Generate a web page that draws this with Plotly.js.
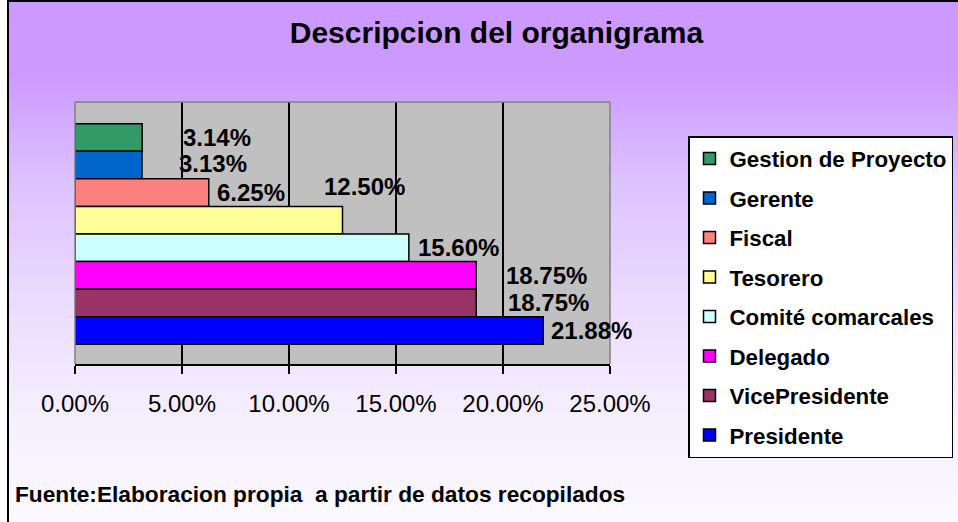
<!DOCTYPE html>
<html>
<head>
<meta charset="utf-8">
<script src="https://cdn.plot.ly/plotly-3.0.1.min.js"></script>
<style>
  html, body { margin: 0; padding: 0; background: #ffffff; }
  #wrap { position: relative; width: 958px; height: 522px; overflow: hidden; }
  #bg { position: absolute; left: 7px; top: 0; width: 951px; height: 522px;
        background: linear-gradient(to bottom, #cc99ff 0%, #cc99ff 14%, #dcc2ff 35%, #ebdcff 58%, #f5efff 80%, #fbf9ff 100%); }
  #frame { position: absolute; left: 7px; top: 0; width: 951px; height: 522px;
           border-left: 2px solid #000; border-top: 2px solid #000; box-sizing: border-box; pointer-events: none; }
  #chart { position: absolute; left: 0; top: 0; width: 958px; height: 522px; }
</style>
</head>
<body>
<div id="wrap">
  <div id="bg"></div>
  <div id="chart"></div>
  <div id="frame"></div>
</div>
<script>
// ---- data (legend order, top to bottom) ----
const categories = ["Gestion de Proyecto", "Gerente", "Fiscal", "Tesorero", "Comité comarcales", "Delegado", "VicePresidente", "Presidente"];
const values = [3.14, 3.13, 6.25, 12.50, 15.60, 18.75, 18.75, 21.88];
const tickValues = [0, 5, 10, 15, 20, 25];
const tickLabels = ["0.00%", "5.00%", "10.00%", "15.00%", "20.00%", "25.00%"];
const titleText = "Descripcion del organigrama";
const sourceText = "Fuente:Elaboracion propia  a partir de datos recopilados";

// ---- styles ----
const barColors = ["#339966", "#0066cc", "#ff8080", "#ffff99", "#ccffff", "#ff00ff", "#993366", "#0000ff"];
const labelXShift = [39, 35, 6, -21, 7, 28, 30, 6];
const labelYShift = [0, 2, 0, 34, 0, 0, 0, 0];
const FONT = "Liberation Sans, Arial, sans-serif";

const traces = categories.map((c, i) => ({
  type: "bar",
  orientation: "h",
  name: c,
  x: [values[i]],
  y: [c],
  legendgroup: "g" + i,
  marker: { color: barColors[i], line: { color: "#000000", width: 1.5 } },
  hoverinfo: "x+name"
}));

const annotations = categories.map((c, i) => ({
  x: values[i],
  y: c,
  xref: "x",
  yref: "y",
  text: values[i].toFixed(2) + "%",
  showarrow: false,
  xanchor: "left",
  yanchor: "middle",
  xshift: labelXShift[i],
  yshift: labelYShift[i],
  font: { family: FONT, size: 24, color: "#000000", weight: 700 }
}));

annotations.push({
  text: sourceText,
  xref: "paper", yref: "paper",
  x: (13 - 75) / 535, y: (364 - 494) / 262,
  xanchor: "left", yanchor: "middle",
  showarrow: false,
  font: { family: FONT, size: 22.7, color: "#000000", weight: 700 }
});

const layout = {
  width: 958,
  height: 522,
  paper_bgcolor: "rgba(0,0,0,0)",
  plot_bgcolor: "#c0c0c0",
  margin: { l: 75, r: 348, t: 102, b: 158, pad: 0, autoexpand: false },
  barmode: "overlay",
  bargap: 0,
  title: {
    text: titleText,
    xref: "container", yref: "container",
    x: 496.5 / 958, y: 1 - 32 / 522,
    xanchor: "center", yanchor: "middle",
    font: { family: FONT, size: 30, color: "#000000", weight: 700 }
  },
  xaxis: {
    range: [0, 25],
    tickvals: tickValues,
    ticktext: tickLabels,
    ticks: "outside",
    ticklen: 8,
    tickwidth: 1.5,
    tickcolor: "#000000",
    ticklabelstandoff: 10,
    showgrid: true,
    gridcolor: "#000000",
    gridwidth: 1.5,
    zeroline: false,
    showline: true,
    linecolor: "#000000",
    linewidth: 1.5,
    automargin: false,
    tickfont: { family: FONT, size: 24, color: "#000000" },
    fixedrange: true
  },
  yaxis: {
    type: "category",
    categoryorder: "array",
    categoryarray: categories.slice().reverse(),
    range: [-1.214, 8.287],
    showticklabels: false,
    ticks: "",
    showgrid: false,
    zeroline: false,
    showline: false,
    automargin: false,
    fixedrange: true
  },
  shapes: [
    { type: "line", xref: "paper", yref: "paper", x0: 0, x1: 1, y0: 1, y1: 1, line: { color: "#808080", width: 1.5 } },
    { type: "line", xref: "paper", yref: "paper", x0: 0, x1: 0, y0: 0, y1: 1, line: { color: "#808080", width: 1.5 } },
    { type: "line", xref: "paper", yref: "paper", x0: 1, x1: 1, y0: 0, y1: 1, line: { color: "#808080", width: 1.5 } }
  ],
  showlegend: true,
  legend: {
    xref: "container",
    yref: "container",
    x: 688 / 958,
    y: 1 - 136 / 522,
    xanchor: "left",
    yanchor: "top",
    traceorder: "grouped",
    tracegroupgap: 7.5,
    maxheight: 400,
    bgcolor: "#ffffff",
    bordercolor: "#000000",
    borderwidth: 1.5,
    font: { family: FONT, size: 22.3, color: "#000000", weight: 700 }
  },
  annotations: annotations
};

Plotly.newPlot("chart", traces, layout, { displayModeBar: false, staticPlot: true });
</script>
</body>
</html>
